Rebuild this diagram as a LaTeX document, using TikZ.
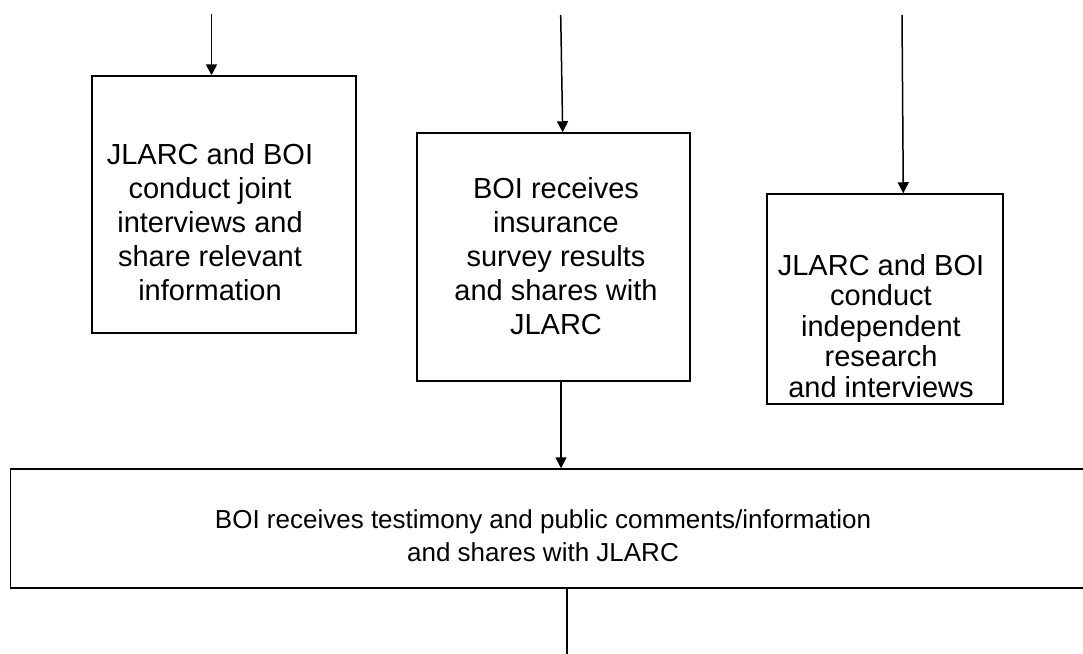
\documentclass[tikz,border=0pt]{standalone}
\usepackage{fontspec}
\setmainfont{Liberation Sans}
\usetikzlibrary{arrows.meta}

\begin{document}
\begin{tikzpicture}[x=1pt, y=-1pt,
		box/.style={draw, line width=1.5pt, inner sep=0pt},
		txt/.style={align=center, inner sep=0pt, font=\fontsize{29}{34}\selectfont},
		flow/.style={-{Triangle[length=11pt,width=11pt]}, line width=1.5pt}]
			\useasboundingbox (0,0) rectangle (1083,653);
			\node[box, minimum width=264pt, minimum height=257pt] (box1) at (224,204.5) {};
			\node[txt] (txt1) at (210,222) {JLARC and BOI\\conduct joint\\interviews and\\share relevant\\information};
			\node[box, minimum width=273pt, minimum height=248pt] (box2) at (553.5,257) {};
			\node[txt] (txt2) at (556,256) {BOI receives\\insurance\\survey results\\and shares with\\JLARC};
			\node[box, minimum width=236pt, minimum height=210pt] (box3) at (885,299) {};
			\node[txt, font=\fontsize{29}{30.5}\selectfont] (txt3) at (881,326) {JLARC and BOI\\conduct\\independent\\research\\and interviews};
			\node[box, minimum width=1090pt, minimum height=119pt] (box4) at (555.7,528.5) {};
			\node[txt, font=\fontsize{26}{33}\selectfont] (txt4) at (543,536) {BOI receives testimony and public comments/information\\and shares with JLARC};
			\coordinate (in1) at (211.5,14);
			\coordinate (in2) at (560.7,15);
			\coordinate (in3) at (902,15);
			\coordinate (out4) at (567,680);
			\draw[flow] (in1) -- (in1 |- box1.north);
			\draw[flow] (in2) -- (562.7,0 |- box2.north);
			\draw[flow] (in3) -- (903.3,0 |- box3.north);
			\draw[flow] (561,0 |- box2.south) -- (561,0 |- box4.north);
			\draw[flow] (567,0 |- box4.south) -- (out4);
		\end{tikzpicture}
\end{document}
